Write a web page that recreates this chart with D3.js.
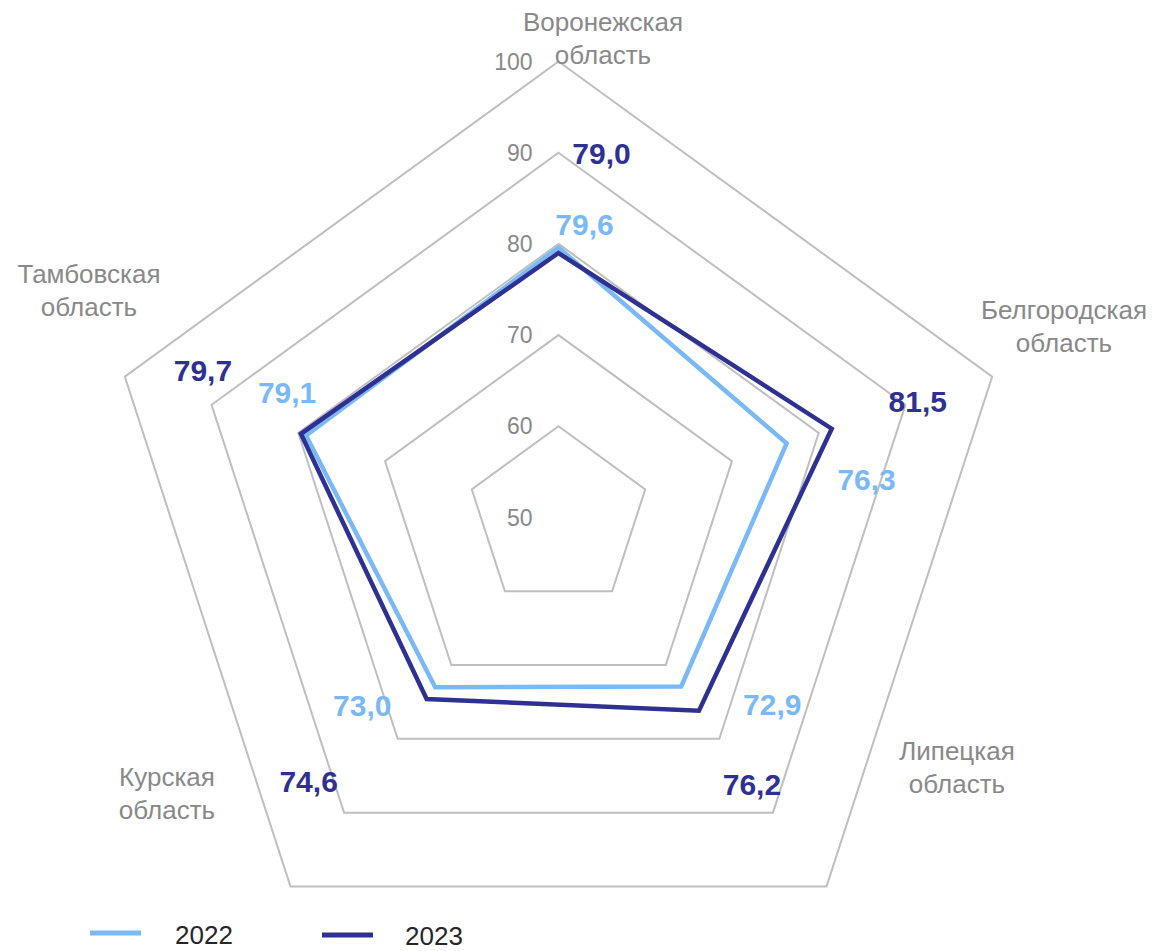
<!DOCTYPE html>
<html><head><meta charset="utf-8">
<script src="https://cdn.jsdelivr.net/npm/d3@7"></script>
<style>body{margin:0;background:#fff;}svg{display:block;font-family:"Liberation Sans",Arial,sans-serif;}</style>
</head><body>
<script>
const categories = [["Воронежская","область"],["Белгородская","область"],["Липецкая","область"],["Курская","область"],["Тамбовская","область"]];
const seriesNames = ["2022","2023"];
const values2022 = [79.6, 76.3, 72.9, 73.0, 79.1];
const values2023 = [79.0, 81.5, 76.2, 74.6, 79.7];
const tickValues = [50, 60, 70, 80, 90, 100];

// layout
const W = 1156, H = 951, cx = 558.5, cy = 517.5, R = 456;
const colors = ["#7bb9f6", "#2e3192"];
const labelOffsets = [
  [[26,-23.5],[80,36],[91,18],[-73,18],[-19,-43.5]],
  [[43,-99.5],[86,-28],[53,73],[-118,82],[-98,-64]]
];
const catLabelPos = [[603,22],[1064,310],[957,751],[167,777],[89,274]];

const svg = d3.select("body").append("svg").attr("width", W).attr("height", H);
const r = d3.scaleLinear().domain([50,100]).range([0,R]);
const angle = i => i * 2 * Math.PI / categories.length;
const g = svg.append("g").attr("transform", `translate(${cx},${cy})`);

// grid rings
const ring = d3.lineRadial().angle((d,i)=>angle(i)).radius(d=>r(d)).curve(d3.curveLinearClosed);
tickValues.slice(1).forEach(t => {
  g.append("path").attr("d", ring(categories.map(()=>t)))
    .attr("fill","none").attr("stroke","#bfbfbf").attr("stroke-width",2);
});
// tick labels
tickValues.forEach(t => {
  g.append("text").attr("x",-26).attr("y",-r(t)).attr("dy","0.35em")
    .attr("text-anchor","end").attr("font-size",23).attr("fill","#898989").text(t);
});

// series
const series = [values2022, values2023];
series.forEach((vals, s) => {
  g.append("path").attr("d", ring(vals)).attr("fill","none")
    .attr("stroke", colors[s]).attr("stroke-width",4.5).attr("stroke-linejoin","miter");
});
// value labels
const fmt = v => d3.format(".1f")(v).replace(".", ",");
series.forEach((vals, s) => {
  vals.forEach((v,i) => {
    const a = angle(i), rr = r(v);
    const x = rr*Math.sin(a) + labelOffsets[s][i][0];
    const y = -rr*Math.cos(a) + labelOffsets[s][i][1];
    g.append("text").attr("x",x).attr("y",y).attr("dy","0.36em")
      .attr("text-anchor","middle").attr("font-size",30).attr("font-weight","bold")
      .attr("fill",colors[s]).text(fmt(v));
  });
});

// category labels
categories.forEach((c,i) => {
  const t = svg.append("text").attr("text-anchor","middle").attr("font-size",26).attr("fill","#898989");
  c.forEach((line,k) => {
    t.append("tspan").attr("x",catLabelPos[i][0]).attr("y",catLabelPos[i][1] + k*32.5).attr("dy","0.36em").text(line);
  });
});

// legend
const legendX = [[90,175,933,944],[322,405,935,945]];
seriesNames.forEach((n,s) => {
  const [lx, tx, ly, ty] = legendX[s];
  svg.append("line").attr("x1",lx).attr("x2",lx+51).attr("y1",ly).attr("y2",ly)
    .attr("stroke",colors[s]).attr("stroke-width",5);
  svg.append("text").attr("x",tx).attr("y",ty).attr("font-size",26).attr("fill","#262626").text(n);
});
</script>
</body></html>
